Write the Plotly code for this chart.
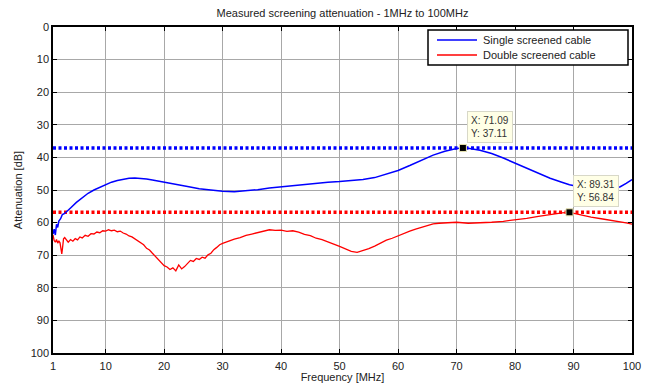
import plotly.graph_objects as go

title_text = "Measured screening attenuation - 1MHz to 100MHz"
series_names = ["Single screened cable", "Double screened cable"]
series_colors = ["#0000FF", "#FF0000"]

single_x = [1, 1.2, 1.4, 1.6, 1.8, 2.0, 2.3, 2.6, 3.0, 3.5, 4.0, 5.0, 6.0, 7.0, 8.0, 9.0,
            10, 11, 12, 13, 14, 15, 16, 17, 18, 19, 20, 22, 24, 26, 28, 30, 32, 34, 36,
            38, 40, 42, 44, 46, 48, 50, 52, 54, 56, 58, 60, 62, 64, 66, 68, 70, 71.09,
            72, 74, 76, 78, 80, 82, 84, 86, 88, 89.31, 91, 93, 95, 97, 98, 99, 100]
single_y = [63.5, 62.0, 63.8, 60.5, 61.5, 59.5, 58.8, 57.5, 57.2, 56.2, 55.5, 53.8, 52.3,
            51.0, 50.0, 49.2, 48.3, 47.6, 47.1, 46.7, 46.4, 46.3, 46.4, 46.6, 46.9, 47.2,
            47.5, 48.2, 48.9, 49.6, 50.1, 50.4, 50.5, 50.3, 49.9, 49.4, 49.0, 48.6, 48.2,
            47.9, 47.6, 47.4, 47.1, 46.8, 46.2, 45.2, 44.0, 42.5, 40.8, 39.3, 38.1, 37.3,
            37.11, 37.2, 37.8, 38.8, 40.2, 41.7, 43.3, 44.9, 46.4, 47.6, 48.4, 49.0, 49.3,
            49.6, 49.5, 49.0, 48.0, 46.8]

double_x = [1, 1.2, 1.4, 1.6, 1.8, 2.0, 2.2, 2.4, 2.5, 2.6, 2.8, 3.0, 3.3, 3.6, 4.0, 4.4,
            4.8, 5.2, 5.6, 6.0, 6.5, 7.0, 7.5, 8.0, 8.5, 9.0, 9.5, 10, 10.5, 11, 11.5, 12,
            12.5, 13, 13.5, 14, 14.5, 15, 15.5, 16, 16.5, 17, 17.5, 18, 18.5, 19, 19.5, 20,
            20.5, 21, 21.5, 22, 22.5, 23, 23.5, 24, 24.5, 25, 25.5, 26, 26.5, 27, 27.5, 28,
            28.5, 29, 29.5, 30, 31, 32, 33, 34, 35, 36, 37, 38, 39, 40, 41, 42, 43, 44, 45,
            46, 47, 48, 49, 50, 51, 52, 53, 54, 55, 56, 57, 58, 59, 60, 61, 62, 63, 64, 65,
            66, 67, 68, 69, 70, 72, 74, 76, 78, 80, 82, 84, 86, 88, 89.31, 91, 93, 95, 97,
            99, 100]
double_y = [63.8, 65.5, 66.0, 65.2, 66.3, 65.6, 66.2, 68.0, 69.6, 68.2, 65.0, 64.6, 65.4,
            66.0, 65.2, 65.7, 64.9, 65.3, 64.4, 64.7, 63.9, 64.2, 63.4, 63.5, 62.9, 63.1,
            62.5, 62.6, 62.2, 62.5, 62.3, 62.8, 62.6, 63.2, 63.5, 64.1, 64.4, 65.0, 65.6,
            66.3, 66.8, 67.9, 68.4, 69.4, 70.3, 71.2, 72.3, 73.2, 73.6, 74.4, 73.9, 74.8,
            73.0, 74.2, 73.5, 72.4, 71.6, 71.9, 71.0, 71.3, 70.6, 70.9, 69.9, 69.4, 68.3,
            67.6, 66.8, 66.4, 65.7, 65.1, 64.6, 63.9, 63.5, 63.0, 62.6, 62.2, 62.4, 62.3,
            62.7, 62.5, 62.9, 63.6, 64.0, 64.8, 65.2, 66.0, 66.6, 67.3, 68.1, 68.8, 69.1,
            68.6, 68.0, 67.2, 66.3, 65.4, 64.8, 64.0, 63.3, 62.6, 62.0, 61.4, 60.9, 60.4,
            60.2, 60.1, 60.0, 59.9, 60.2, 60.1, 59.9, 59.6, 59.2, 58.7, 58.1, 57.5, 57.0,
            56.84, 57.6, 58.3, 58.9, 59.4, 60.1, 60.5]

peak_x = [71.09, 89.31]
peak_y = [37.11, 56.84]
level_x = [1, 100]

x_ticks = [1, 10, 20, 30, 40, 50, 60, 70, 80, 90, 100]
y_ticks = [0, 10, 20, 30, 40, 50, 60, 70, 80, 90, 100]

FONT = "Arial, Liberation Sans, sans-serif"

fig = go.Figure()

# dotted level lines
for lvl, col in zip(peak_y, series_colors):
    fig.add_trace(go.Scatter(x=level_x, y=[lvl, lvl], mode="lines",
                             line=dict(color=col, width=3.5, dash="3px,2.5px"),
                             showlegend=False, hoverinfo="skip"))

fig.add_trace(go.Scatter(x=single_x, y=single_y, mode="lines", name=series_names[0],
                         line=dict(color=series_colors[0], width=1.5), showlegend=False))
fig.add_trace(go.Scatter(x=double_x, y=double_y, mode="lines", name=series_names[1],
                         line=dict(color=series_colors[1], width=1.3), showlegend=False))

fig.add_trace(go.Scatter(x=peak_x, y=peak_y, mode="markers", showlegend=False,
                         marker=dict(symbol="square", size=7, color="black",
                                     line=dict(color="#E8E4B0", width=1))))

for px_, py_ in zip(peak_x, peak_y):
    fig.add_annotation(x=px_, y=py_, xref="x", yref="y",
                       text=f"X: {px_:.2f}<br>Y: {py_:.2f}",
                       showarrow=False, xanchor="left", yanchor="bottom",
                       xshift=4, yshift=5, align="left",
                       bgcolor="#FFFFE6", bordercolor="#D8D8C8", borderwidth=1,
                       borderpad=3, font=dict(family=FONT, size=10, color="#333"))

# legend box drawn in pixel-based paper coords
L, T, W, H = 53, 27, 579, 326
def px2x(p):
    return (p - L) / W
def py2y(p):
    return (T + H - p) / H

fig.add_shape(type="rect", xref="paper", yref="paper",
              x0=px2x(428), x1=px2x(628), y0=py2y(65), y1=py2y(30),
              line=dict(color="black", width=1.5), fillcolor="white", layer="above")
for i, (nm, col) in enumerate(zip(series_names, series_colors)):
    yy = py2y(40 + 15 * i)
    fig.add_shape(type="line", xref="paper", yref="paper",
                  x0=px2x(437), x1=px2x(477), y0=yy, y1=yy,
                  line=dict(color=col, width=1.5), layer="above")
    fig.add_annotation(x=px2x(481), y=yy, xref="paper", yref="paper", text=nm,
                       showarrow=False, xanchor="left", yanchor="middle",
                       font=dict(family=FONT, size=11, color="#222"))

axis_common = dict(showline=True, linecolor="black", linewidth=1.5, mirror="allticks",
                   ticks="inside", ticklen=4, tickcolor="black",
                   showgrid=True, gridcolor="#A8A8A8", gridwidth=1,
                   zeroline=False, tickfont=dict(family=FONT, size=11, color="#222"))

fig.update_xaxes(range=[1, 100], tickvals=x_ticks, ticklabelstandoff=2, automargin=False,
                 title=dict(text="Frequency [MHz]", standoff=2,
                            font=dict(family=FONT, size=11, color="#222")),
                 **axis_common)
fig.update_yaxes(range=[100, 0], tickvals=y_ticks, automargin=False,
                 title=dict(text="Attenuation [dB]", standoff=6,
                            font=dict(family=FONT, size=11, color="#222")),
                 **axis_common)

fig.update_layout(
    width=655, height=383,
    margin=dict(l=53, r=23, t=27, b=30),
    paper_bgcolor="white", plot_bgcolor="white",
    title=dict(text=title_text, x=0.5, xref="paper", y=0.966, yref="container",
               yanchor="middle", xanchor="center",
               font=dict(family=FONT, size=11, color="#222")),
    showlegend=False,
)

fig.write_html("out.html")
